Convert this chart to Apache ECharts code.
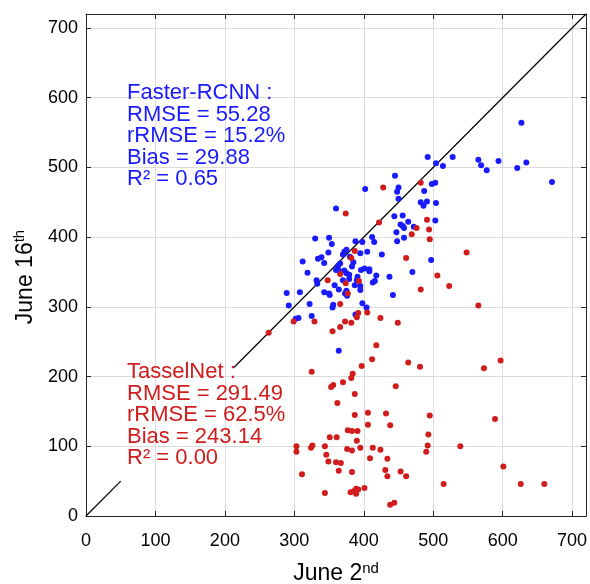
<!DOCTYPE html>
<html>
<head>
<meta charset="utf-8">
<script src="https://cdn.jsdelivr.net/npm/echarts@6/dist/echarts.min.js"></script>
<style>
  html, body { margin: 0; padding: 0; background: #fff; }
  #chart { width: 590px; height: 584px; }
</style>
</head>
<body>
<div id="chart"></div>
<script>
// tick labels
const tickValues = [0, 100, 200, 300, 400, 500, 600, 700];

// Faster-RCNN points [June 2nd, June 16th]
const fasterRcnn = [
  [492,515],[504,506],[514,502],[445,488],[402,469],[450,471],[448,465],[487,466],[503,478],[498,476],
  [450,455],[482,450],[486,445],[491,451],[504,449],[360,441],[444,430],[456,431],[464,422],[453,418],
  [456,416],[458,413],[472,415],[503,424],[447,407],[458,399],[448,394],[330,398],[350,399],[354,390],
  [412,400],[415,393],[388,394],[398,393],[375,382],[372,379],[370,375],[405,379],[395,377],[426,375],
  [349,378],[339,371],[334,369],[343,363],[312,365],[380,372],[385,364],[366,362],[363,359],[383,358],
  [360,353],[364,352],[372,352],[375,348],[379,346],[396,353],[401,355],[408,354],[408,351],[418,345],
  [391,343],[319,349],[332,338],[333,333],[370,338],[379,340],[390,338],[387,331],[395,330],[395,324],
  [413,335],[416,337],[437,343],[497,367],[470,350],[358,331],[343,321],[350,319],[351,317],[364,325],
  [375,323],[376,316],[373,319],[289,320],[308,321],[442,317],[292,302],[322,304],[356,303],[355,299],
  [398,305],[404,299],[325,287],[306,284],[302,283],[388,289],[364,237],[627,564],[528,515],[565,511],
  [569,503],[577,496],[594,509],[621,499],[634,507],[671,479]
];

// TasselNet points [June 2nd, June 16th]
const tasselNet = [
  [482,478],[428,471],[374,434],[422,421],[491,425],[476,413],[494,411],[469,404],[495,397],[461,370],
  [387,380],[382,370],[366,347],[348,338],[374,334],[393,337],[377,319],[506,345],[482,325],[523,330],
  [366,304],[299,279],[329,279],[355,265],[366,271],[373,279],[382,277],[390,285],[392,291],[405,292],
  [424,284],[449,277],[263,263],[548,378],[565,302],[418,245],[412,225],[397,215],[464,220],[481,214],
  [325,207],[384,204],[382,198],[370,192],[356,188],[353,185],[446,186],[387,175],[362,162],[387,145],
  [406,148],[432,147],[495,144],[406,131],[438,130],[377,123],[383,122],[391,122],[351,113],[361,113],
  [390,108],[493,117],[492,101],[490,92],[303,100],[303,92],[324,98],[326,101],[344,100],[346,88],
  [349,78],[360,77],[367,76],[364,65],[376,96],[383,94],[395,98],[413,98],[424,95],[409,83],
  [434,82],[383,63],[431,66],[434,57],[453,64],[461,57],[311,60],[515,46],[344,33],[381,34],
  [386,36],[389,39],[392,38],[401,40],[389,32],[438,16],[444,19],[597,223],[573,212],[589,139],
  [539,100],[601,71],[626,46],[660,46]
];

// 1:1 line, broken where the TasselNet text sits
const oneToOneLow = [[0, 0], [50, 50]];
const oneToOneHigh = [[213, 213], [720, 720]];

const fasterText = ['Faster-RCNN :', 'RMSE = 55.28', 'rRMSE = 15.2%', 'Bias = 29.88', 'R\u00b2 = 0.65'];
const tasselText = ['TasselNet :', 'RMSE = 291.49', 'rRMSE = 62.5%', 'Bias = 243.14', 'R\u00b2 = 0.00'];

const BLUE = '#1a1aff';
const RED = '#d01c1c';
const FONT = 'Liberation Sans, Arial, sans-serif';

const chart = echarts.init(document.getElementById('chart'));

function makeAxis(pos, showLabel) {
  return {
    type: 'value',
    position: pos,
    min: 0,
    max: 720,
    interval: 100,
    axisLine: { show: true, onZero: false, lineStyle: { color: '#262626', width: 1 } },
    axisTick: {
      show: true, inside: true, length: 5,
      customValues: tickValues,
      lineStyle: { color: '#262626' }
    },
    axisLabel: {
      show: showLabel,
      color: '#000',
      fontSize: 18,
      fontFamily: FONT,
      margin: pos === 'bottom' ? 16 : 8,
      customValues: tickValues
    },
    splitLine: { show: showLabel, lineStyle: { color: '#dcdcdc', width: 1 } }
  };
}

const titleRich = {
  a: { fontSize: 23, fontFamily: FONT, color: '#000' },
  s: { fontSize: 15, fontFamily: FONT, color: '#000', padding: [0, 0, 11, 0] }
};

const xBottom = makeAxis('bottom', true);
xBottom.name = '{a|June 2}{s|nd}';
xBottom.nameLocation = 'middle';
xBottom.nameGap = 45;
xBottom.nameTextStyle = { rich: titleRich };

const yLeft = makeAxis('left', true);
yLeft.name = '{a|June 16}{s|th}';
yLeft.nameLocation = 'middle';
yLeft.nameGap = 40;
yLeft.nameTextStyle = { rich: titleRich, padding: [0, 24, 0, 0] };

chart.setOption({
  animation: false,
  backgroundColor: '#fff',
  grid: { left: 86, right: 4, top: 14, bottom: 68, outerBoundsMode: 'none' },
  xAxis: [xBottom, makeAxis('top', false)],
  yAxis: [yLeft, makeAxis('right', false)],
  series: [
    {
      type: 'line', data: oneToOneLow, symbol: 'none',
      lineStyle: { color: '#000', width: 1.2 }, z: 1
    },
    {
      type: 'line', data: oneToOneHigh, symbol: 'none',
      lineStyle: { color: '#000', width: 1.2 }, z: 1
    },
    {
      name: 'Faster-RCNN', type: 'scatter', data: fasterRcnn,
      symbolSize: 6, itemStyle: { color: BLUE, opacity: 1 }, z: 2
    },
    {
      name: 'TasselNet', type: 'scatter', data: tasselNet,
      symbolSize: 6, itemStyle: { color: RED, opacity: 1 }, z: 3
    }
  ],
  graphic: [
    {
      type: 'text', left: 127, top: 82, z: 10,
      style: { text: fasterText.join('\n'), fill: BLUE, font: '22px ' + FONT, lineHeight: 21.5 }
    },
    {
      type: 'text', left: 127, top: 361, z: 10,
      style: { text: tasselText.join('\n'), fill: RED, font: '22px ' + FONT, lineHeight: 21.5 }
    }
  ]
});
</script>
</body>
</html>
